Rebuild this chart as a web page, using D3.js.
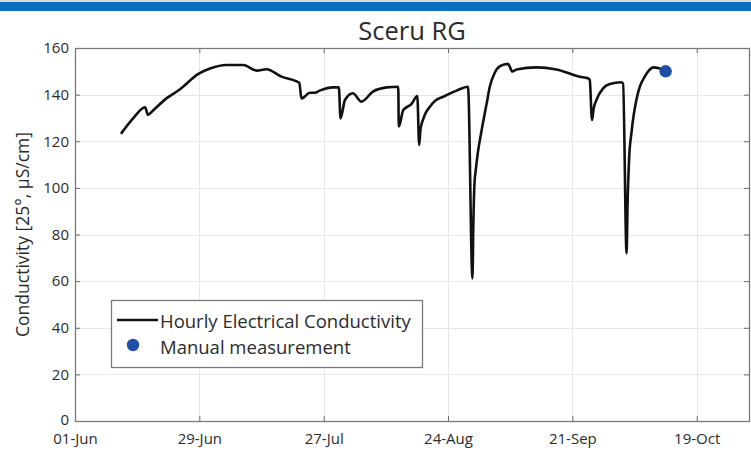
<!DOCTYPE html>
<html><head><meta charset="utf-8">
<script src="https://cdn.jsdelivr.net/npm/d3@7"></script>
<style>body{margin:0;background:#fff;} svg{display:block;}</style>
</head><body><svg id="c" width="751" height="453"></svg>
<script>
const chartTitle = "Sceru RG";
const yLabel = "Conductivity [25°, µS/cm]";
const legendLabels = ["Hourly Electrical Conductivity", "Manual measurement"];

const ecTimes = [
  "2016-06-11 12:00","2016-06-14 02:00","2016-06-16 19:00","2016-06-17 10:00","2016-06-18 07:00",
  "2016-06-21 14:00","2016-06-24 14:00","2016-06-28 19:00","2016-07-01 10:00","2016-07-05 02:00",
  "2016-07-08 22:00","2016-07-11 22:00","2016-07-14 02:00","2016-07-17 12:00","2016-07-21 12:00",
  "2016-07-22 00:00","2016-07-23 22:00","2016-07-25 00:00","2016-07-26 02:00","2016-07-29 02:00",
  "2016-07-30 10:00","2016-07-30 19:00","2016-07-31 19:00","2016-08-02 14:00","2016-08-04 12:00",
  "2016-08-07 02:00","2016-08-10 05:00","2016-08-12 19:00","2016-08-12 22:00","2016-08-13 22:00",
  "2016-08-15 19:00","2016-08-17 02:00","2016-08-17 12:00","2016-08-17 19:00","2016-08-18 10:00",
  "2016-08-19 00:00","2016-08-19 22:00","2016-08-21 00:00","2016-08-22 22:00","2016-08-25 22:00",
  "2016-08-28 12:00","2016-08-29 12:00","2016-08-29 17:00","2016-08-29 23:00","2016-08-30 05:00",
  "2016-08-30 17:00","2016-08-31 12:00","2016-09-01 17:00","2016-09-02 10:00","2016-09-03 12:00",
  "2016-09-04 17:00","2016-09-06 12:00","2016-09-07 12:00","2016-09-08 10:00","2016-09-12 22:00",
  "2016-09-17 10:00","2016-09-22 17:00","2016-09-24 12:00","2016-09-24 22:00","2016-09-25 10:00",
  "2016-09-25 19:00","2016-09-26 10:00","2016-09-27 22:00","2016-09-29 10:00","2016-10-02 00:00",
  "2016-10-02 10:00","2016-10-03 05:00","2016-10-03 10:00","2016-10-03 19:00","2016-10-04 07:00",
  "2016-10-04 19:00","2016-10-05 10:00","2016-10-06 05:00","2016-10-07 07:00","2016-10-08 05:00",
  "2016-10-09 05:00","2016-10-10 17:00"
];
const ecValues = [
  123.6,129.8,134.6,131.3,132.7,
  138.4,142.2,148.9,151.2,152.7,
  152.7,150.3,150.9,147.7,145.1,
  138.4,140.8,140.8,141.7,143.1,
  143.1,129.8,137.7,140.6,137.0,
  141.3,143.1,143.4,126.3,133.4,
  136.0,139.4,118.4,125.0,129.5,
  132.3,134.8,137.2,139.1,141.7,
  143.4,61.2,85.0,102.0,107.0,
  115.0,124.0,136.3,143.5,149.3,
  152.2,153.2,149.9,150.8,151.7,
  150.8,147.7,147.0,146.3,129.1,
  134.0,137.7,142.7,144.6,145.3,
  144.8,71.9,92.0,113.0,123.4,
  131.0,137.7,143.5,147.7,150.3,
  151.7,151.2
];
const manualTimes = ["2016-10-12 00:00"];
const manualValues = [150];

const xDomain = ["2016-06-01 00:00", "2016-10-31 00:00"];
const xTickDates = ["2016-06-01 00:00","2016-06-29 00:00","2016-07-27 00:00","2016-08-24 00:00","2016-09-21 00:00","2016-10-19 00:00"];
const yTicks = [0,20,40,60,80,100,120,140,160];

const parse = d3.utcParse("%Y-%m-%d %H:%M");
const svg = d3.select("#c");
const font = "'Open Sans', sans-serif";
const textColor = "#2b2b2b";

// top banner
svg.append("rect").attr("x",0).attr("y",0).attr("width",751).attr("height",2).attr("fill","#d9d9d9");
svg.append("rect").attr("x",0).attr("y",2).attr("width",751).attr("height",9).attr("fill","#0b6fc1");

const L = 75, R = 749, T = 48, B = 421;
const x = d3.scaleUtc().domain(xDomain.map(parse)).range([L, R + 1]);
const y = d3.scaleLinear().domain([0,160]).range([B, T]);

// grid
const g = svg.append("g");
g.selectAll(".gx").data(xTickDates.map(parse)).join("line")
  .attr("x1", d => Math.round(x(d)) + 0.5).attr("x2", d => Math.round(x(d)) + 0.5)
  .attr("y1", T).attr("y2", B).attr("stroke", "#e6e6e6").attr("stroke-width", 1);
g.selectAll(".gy").data(yTicks).join("line")
  .attr("x1", L).attr("x2", R)
  .attr("y1", d => Math.round(y(d)) + 0.5).attr("y2", d => Math.round(y(d)) + 0.5)
  .attr("stroke", "#e6e6e6").attr("stroke-width", 1);

// axes
const fmt = d3.utcFormat("%d-%b");
const xAxis = svg.append("g").attr("transform", `translate(0,${B})`)
  .call(d3.axisBottom(x).tickValues(xTickDates.map(parse)).tickFormat(fmt).tickSizeInner(-5).tickSizeOuter(0).tickPadding(12));
const xAxisTop = svg.append("g").attr("transform", `translate(0,${T})`)
  .call(d3.axisTop(x).tickValues(xTickDates.map(parse)).tickFormat("").tickSizeInner(-5).tickSizeOuter(0));
const yAxis = svg.append("g").attr("transform", `translate(${L},0)`)
  .call(d3.axisLeft(y).tickValues(yTicks).tickSizeInner(-5).tickSizeOuter(0).tickPadding(6));
const yAxisR = svg.append("g").attr("transform", `translate(${R},0)`)
  .call(d3.axisRight(y).tickValues(yTicks).tickFormat("").tickSizeInner(-5).tickSizeOuter(0));
[xAxis, xAxisTop, yAxis, yAxisR].forEach(a => {
  a.select(".domain").remove();
  a.selectAll("line").attr("stroke", "#6b6b6b");
  a.selectAll("text").attr("font-family", font).attr("font-size", 15).attr("fill", textColor);
});
// nudge the zero label up slightly so it does not collide with the first date label
yAxis.selectAll(".tick text").filter(d => d === 0).attr("dy", "0.2em");

// frame
svg.append("rect").attr("x", L + 0.5).attr("y", T + 0.5).attr("width", R - L).attr("height", B - T)
  .attr("fill", "none").attr("stroke", "#7a7a7a").attr("stroke-width", 1.3);

// line
const ecData = ecTimes.map((t, i) => ({t: parse(t), v: ecValues[i]}));
const line = d3.line().x(d => x(d.t)).y(d => y(d.v)).curve(d3.curveMonotoneX);
svg.append("path").datum(ecData).attr("d", line)
  .attr("fill", "none").attr("stroke", "#111").attr("stroke-width", 2.6)
  .attr("stroke-linejoin", "round").attr("stroke-linecap", "round");

// manual
const manData = manualTimes.map((t, i) => ({t: parse(t), v: manualValues[i]}));
svg.selectAll(".man").data(manData).join("circle")
  .attr("cx", d => x(d.t)).attr("cy", d => y(d.v)).attr("r", 6.2).attr("fill", "#1f4fa5");

// title
svg.append("text").attr("x", (L + R) / 2).attr("y", 40).attr("text-anchor", "middle")
  .attr("font-family", font).attr("font-size", 25.5).attr("fill", textColor).text(chartTitle);

// y label
svg.append("text").attr("transform", `translate(22,${(T + B) / 2}) rotate(-90)`)
  .attr("text-anchor", "middle").attr("dominant-baseline", "central")
  .attr("font-family", font).attr("font-size", 17.5).attr("fill", textColor).text(yLabel);

// legend
const lg = svg.append("g");
lg.append("rect").attr("x", 111.5).attr("y", 300.5).attr("width", 311).attr("height", 67)
  .attr("fill", "#fff").attr("stroke", "#7a7a7a").attr("stroke-width", 1.3);
lg.append("line").attr("x1", 117).attr("x2", 158).attr("y1", 320).attr("y2", 320)
  .attr("stroke", "#111").attr("stroke-width", 2.6);
lg.append("circle").attr("cx", 133).attr("cy", 345).attr("r", 6.2).attr("fill", "#1f4fa5");
lg.selectAll(".lt").data(legendLabels).join("text")
  .attr("x", 160).attr("y", (d, i) => 320 + i * 26).attr("dominant-baseline", "central")
  .attr("font-family", font).attr("font-size", 18.5).attr("fill", textColor).text(d => d);
</script></body></html>
